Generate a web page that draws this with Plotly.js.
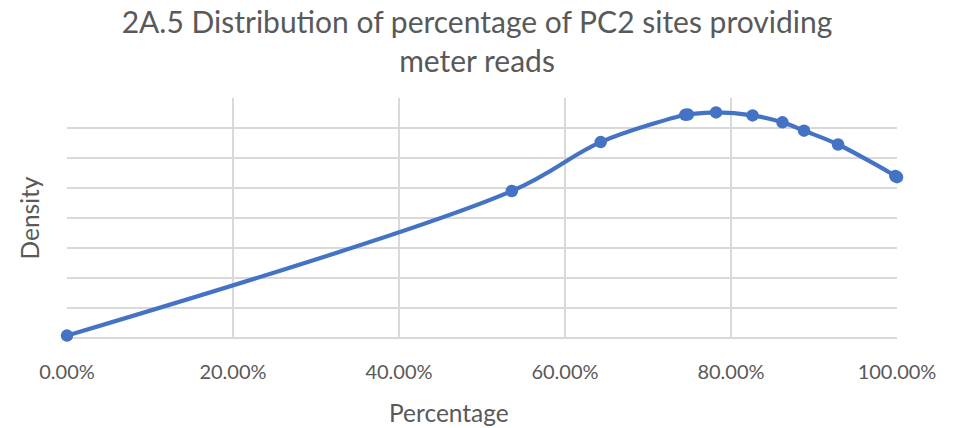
<!DOCTYPE html>
<html>
<head>
<meta charset="utf-8">
<script src="https://cdn.plot.ly/plotly-3.0.1.min.js"></script>
<style>
  html, body { margin: 0; padding: 0; background: #ffffff; }
  #chart { width: 954px; height: 428px; }
</style>
</head>
<body>
<div id="chart"></div>
<script>
// Percentage of PC2 sites providing meter reads (fraction) and density (relative units)
const percentage = [0, 0.536, 0.643, 0.745, 0.748, 0.782, 0.826, 0.862, 0.888, 0.929, 0.998, 1.0];
const density    = [0.08, 4.90, 6.53, 7.44, 7.45, 7.52, 7.42, 7.19, 6.91, 6.45, 5.40, 5.36];
const xTickValues = [0, 0.2, 0.4, 0.6, 0.8, 1.0];

const chartTitle = '2A.5 Distribution of percentage of PC2 sites providing<br>meter reads';
const xTitle = 'Percentage';
const yTitle = 'Density';

const textColor = '#595959';
const gridColor = '#d9d9d9';
const lineColor = '#4472C4';
const fontFamily = 'Lato, "Open Sans", sans-serif';

const trace = {
  x: percentage,
  y: density,
  type: 'scatter',
  mode: 'lines+markers',
  cliponaxis: false,
  line: { color: lineColor, width: 4.2, shape: 'spline', smoothing: 1 },
  marker: { color: lineColor, size: 12.5 },
  hoverinfo: 'x+y'
};

const layout = {
  width: 954,
  height: 428,
  paper_bgcolor: '#ffffff',
  plot_bgcolor: '#ffffff',
  margin: { l: 67, r: 57, t: 98, b: 90 },
  font: { family: fontFamily, color: textColor },
  showlegend: false,
  title: {
    text: chartTitle,
    font: { size: 30, color: textColor, family: fontFamily },
    x: 0.5,
    xanchor: 'center',
    xref: 'container',
    y: 0.924,
    yanchor: 'top',
    yref: 'container'
  },
  xaxis: {
    range: [0, 1],
    tickvals: xTickValues,
    tickformat: '.2%',
    showgrid: true,
    gridcolor: gridColor,
    gridwidth: 1.3,
    zeroline: false,
    showline: false,
    ticks: '',
    tickfont: { size: 20, color: textColor },
    ticklabelstandoff: 20,
    fixedrange: true
  },
  yaxis: {
    range: [0, 8],
    dtick: 1,
    showticklabels: false,
    showgrid: true,
    gridcolor: gridColor,
    gridwidth: 1.3,
    zeroline: true,
    zerolinecolor: gridColor,
    zerolinewidth: 1.3,
    showline: false,
    ticks: '',
    title: { text: yTitle, font: { size: 24.5, color: textColor }, standoff: 19 },
    fixedrange: true
  },
  annotations: [{
    text: xTitle,
    xref: 'paper', yref: 'paper',
    x: (449 - 67) / 830, y: -(412 - 338) / 240,
    xanchor: 'center', yanchor: 'middle',
    showarrow: false,
    font: { size: 24.5, color: textColor }
  }]
};

Plotly.newPlot('chart', [trace], layout, { displayModeBar: false, staticPlot: true });
</script>
</body>
</html>
